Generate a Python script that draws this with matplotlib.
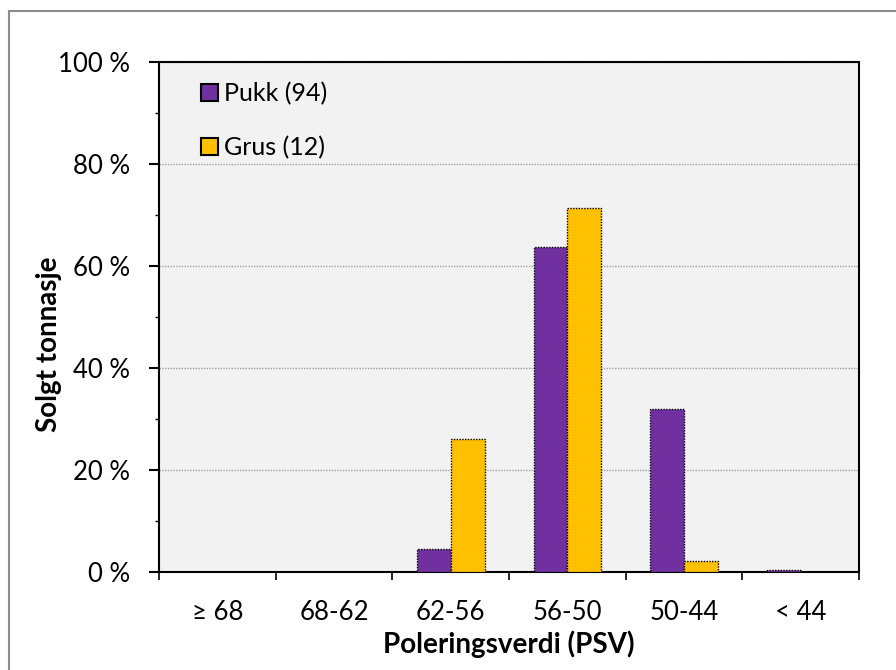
import matplotlib
matplotlib.use("Agg")
import matplotlib.pyplot as plt
from matplotlib.patches import Rectangle
from matplotlib.ticker import MultipleLocator, FuncFormatter
import numpy as np

plt.rcParams['font.family'] = ['Lato', 'DejaVu Sans']

categories = ["\u2265 68", "68-62", "62-56", "56-50", "50-44", "< 44"]
pukk = [0.0, 0.0, 4.5, 63.7, 32.0, 0.4]
grus = [0.0, 0.0, 26.1, 71.4, 2.2, 0.0]
series_names = ["Pukk (94)", "Grus (12)"]
colors = ["#7030A0", "#FFC000"]

W, H = 896, 670
fig = plt.figure(figsize=(W / 100, H / 100), dpi=100)

# outer chart frame (only top and left edges fall inside the canvas)
fig.patches.append(Rectangle((9 / W, -0.1), 1.2, (H - 11) / H + 0.1,
                             transform=fig.transFigure, fill=False,
                             edgecolor="#8C8C8C", linewidth=1.5, zorder=0))

left, right, top, bottom = 159, 859, 62, 572
ax = fig.add_axes([left / W, 1 - bottom / H, (right - left) / W, (bottom - top) / H])
ax.set_facecolor("#F2F2F2")

x = np.arange(len(categories))
bw = 0.29
for vals, col, name, off in [(pukk, colors[0], series_names[0], -bw / 2),
                              (grus, colors[1], series_names[1], bw / 2)]:
    ax.bar(x + off, vals, width=bw, color=col, edgecolor="black",
           linewidth=1.0, linestyle=(0, (1, 1)), label=name, zorder=3)

ax.set_xlim(-0.5, len(categories) - 0.5)
ax.set_ylim(0, 100)

ax.yaxis.set_major_locator(MultipleLocator(20))
ax.yaxis.set_minor_locator(MultipleLocator(10))
ax.yaxis.set_major_formatter(FuncFormatter(lambda v, p: f"{int(v)} %"))
ax.grid(axis="y", which="major", color="#A0A0A0", linestyle=(0, (1, 1)),
        linewidth=1.0, zorder=1)

ax.set_xticks(x)
ax.set_xticklabels(categories)
ax.set_xticks(np.arange(-0.5, len(categories)), minor=True)
ax.tick_params(axis="x", which="major", length=0, pad=20, labelsize=18.5)
ax.tick_params(axis="x", which="minor", length=6, width=1.2, direction="out")
ax.tick_params(axis="y", which="major", length=7, width=1.5, direction="out",
               labelsize=18.5, pad=14)
ax.tick_params(axis="y", which="minor", length=3, width=1.0, direction="out")

for s in ["top", "right", "bottom"]:
    ax.spines[s].set_linestyle((0, (1, 1)))
    ax.spines[s].set_linewidth(1.5)
    ax.spines[s].set_color("black")
ax.spines["left"].set_linewidth(1.5)
ax.spines["left"].set_color("black")

ax.set_xlabel("Poleringsverdi (PSV)", fontsize=20, fontweight="bold")
ax.set_ylabel("Solgt tonnasje", fontsize=20, fontweight="bold")
ax.xaxis.set_label_coords(0.5, -0.115)
ax.yaxis.set_label_coords(-0.139, 0.447)

leg = ax.legend(loc="upper left", bbox_to_anchor=(0.038, 0.99), frameon=False,
                fontsize=18, handlelength=0.7, handleheight=0.7, handletextpad=0.25,
                labelspacing=1.23, borderaxespad=0.2)
for h in leg.legend_handles:
    h.set_linestyle("-")
    h.set_linewidth(1.5)

fig.savefig("out.png", dpi=100)
